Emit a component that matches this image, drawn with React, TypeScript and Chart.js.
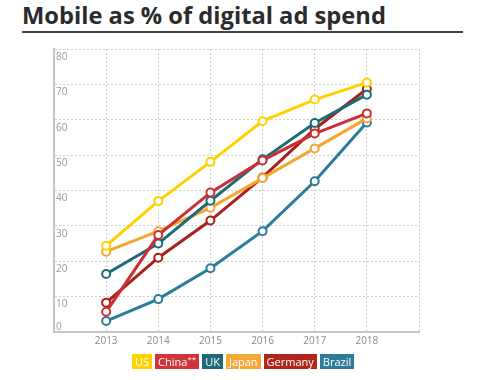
import React, { useEffect, useRef } from "react";
import { Chart, registerables } from "chart.js";

Chart.register(...registerables);

const YEARS = [2013, 2014, 2015, 2016, 2017, 2018];
const Y_TICKS = [0, 10, 20, 30, 40, 50, 60, 70, 80];

const SERIES_NAMES = ["US", "China**", "UK", "Japan", "Germany", "Brazil"];
const US = [24.4, 37.0, 48.1, 59.6, 65.7, 70.5];
const CHINA = [5.7, 27.4, 39.4, 48.5, 56.1, 61.8];
const UK = [16.4, 25.0, 37.1, 48.8, 59.1, 67.1];
const JAPAN = [22.7, 28.5, 35.1, 43.5, 51.9, 60.4];
const GERMANY = [8.3, 21.0, 31.5, 43.7, 57.4, 68.7];
const BRAZIL = [3.1, 9.3, 18.0, 28.5, 42.6, 59.2];

const LINE_COLORS = ["#FFD100", "#CC2E35", "#1D6B78", "#F3A733", "#A8201A", "#2B7B9B"];
const LEGEND_COLORS = ["#FFD200", "#D13438", "#1F6A77", "#F5A837", "#B0261F", "#2F7B9A"];

const SERIES = [US, CHINA, UK, JAPAN, GERMANY, BRAZIL];

const yLabelPlugin = {
  id: "yLabels",
  afterDraw(chart: any) {
    const y = chart.scales.y;
    const ctx = chart.ctx;
    ctx.save();
    ctx.font = '10px "Liberation Sans Narrow", "Open Sans", sans-serif';
    ctx.fillStyle = "#9a9a9a";
    ctx.textAlign = "left";
    ctx.textBaseline = "middle";
    Y_TICKS.forEach((v) => {
      const py = y.getPixelForValue(v);
      ctx.fillText(String(v), chart.chartArea.left + 2, v === 0 ? py - 5 : py + 8);
    });
    ctx.restore();
  },
};

function legendText(name: string) {
  const m = name.match(/^(.*?)(\*+)$/);
  if (!m) return name;
  return (
    <>
      {m[1]}
      <span style={{ fontSize: 8, verticalAlign: "top", lineHeight: "10px" }}>{m[2]}</span>
    </>
  );
}

export default function App() {
  const ref = useRef<HTMLCanvasElement | null>(null);

  useEffect(() => {
    if (!ref.current) return;
    const chart = new Chart(ref.current, {
      type: "line",
      data: {
        datasets: SERIES.map((vals, i) => ({
          label: SERIES_NAMES[i],
          data: vals.map((v, j) => ({ x: YEARS[j], y: v })),
          borderColor: LINE_COLORS[i],
          backgroundColor: "#ffffff",
          pointBackgroundColor: "#ffffff",
          pointBorderColor: LINE_COLORS[i],
          pointBorderWidth: 2,
          pointRadius: 4,
          borderWidth: 3,
          tension: 0,
          fill: false,
        })),
      },
      options: {
        responsive: false,
        animation: false,
        layout: { padding: { left: 54, right: 69, top: 49, bottom: 28 } },
        plugins: {
          legend: { display: false },
          title: { display: false },
          tooltip: { enabled: false },
        },
        scales: {
          x: {
            type: "linear",
            min: 2012,
            max: 2019,
            ticks: {
              stepSize: 1,
              autoSkip: false,
              maxRotation: 0,
              padding: 3,
              color: "#8a8a8a",
              font: { family: '"Liberation Sans Narrow", "Open Sans", sans-serif', size: 10 },
              callback: (v: any) => (YEARS.includes(Number(v)) ? String(v) : ""),
            },
            grid: { color: "#cfcfcf", lineWidth: 1, drawTicks: false },
            border: { display: true, color: "#c4c4c4", width: 2, dash: [2, 2] },
            afterFit: (s: any) => {
              s.height = 20;
            },
          },
          y: {
            min: 0,
            max: 80,
            ticks: { stepSize: 10, display: false },
            grid: { color: "#cfcfcf", lineWidth: 1, drawTicks: false },
            border: { display: true, color: "#c4c4c4", width: 2, dash: [2, 2] },
            afterFit: (s: any) => {
              s.width = 0;
            },
          },
        },
      },
      plugins: [yLabelPlugin],
    });
    return () => chart.destroy();
  }, []);

  return (
    <div
      style={{
        position: "fixed",
        left: 0,
        top: 0,
        width: 488,
        height: 380,
        background: "#ffffff",
        overflow: "hidden",
      }}
    >
      <div
        style={{
          position: "absolute",
          left: 22,
          top: -2,
          fontFamily: '"Open Sans", sans-serif',
          fontWeight: 700,
          fontSize: 23.7,
          lineHeight: "34px",
          color: "#2b2b2b",
          whiteSpace: "nowrap",
        }}
      >
        Mobile as % of digital ad spend
      </div>
      <div
        style={{
          position: "absolute",
          left: 22,
          top: 31,
          width: 441,
          height: 2,
          background: "#444444",
        }}
      />
      <canvas
        ref={ref}
        width={488}
        height={380}
        style={{ position: "absolute", left: 0, top: 0, width: 488, height: 380 }}
      />
      <div
        style={{
          position: "absolute",
          left: 132,
          top: 354,
          display: "flex",
          gap: 3,
        }}
      >
        {SERIES_NAMES.map((name, i) => (
          <div
            key={name}
            style={{
              background: LEGEND_COLORS[i],
              color: "#ffffff",
              fontFamily: '"Liberation Sans Narrow", "Open Sans", sans-serif',
              fontSize: 11,
              lineHeight: "15px",
              height: 15,
              padding: "0 3px",
              whiteSpace: "nowrap",
            }}
          >
            {legendText(name)}
          </div>
        ))}
      </div>
    </div>
  );
}
